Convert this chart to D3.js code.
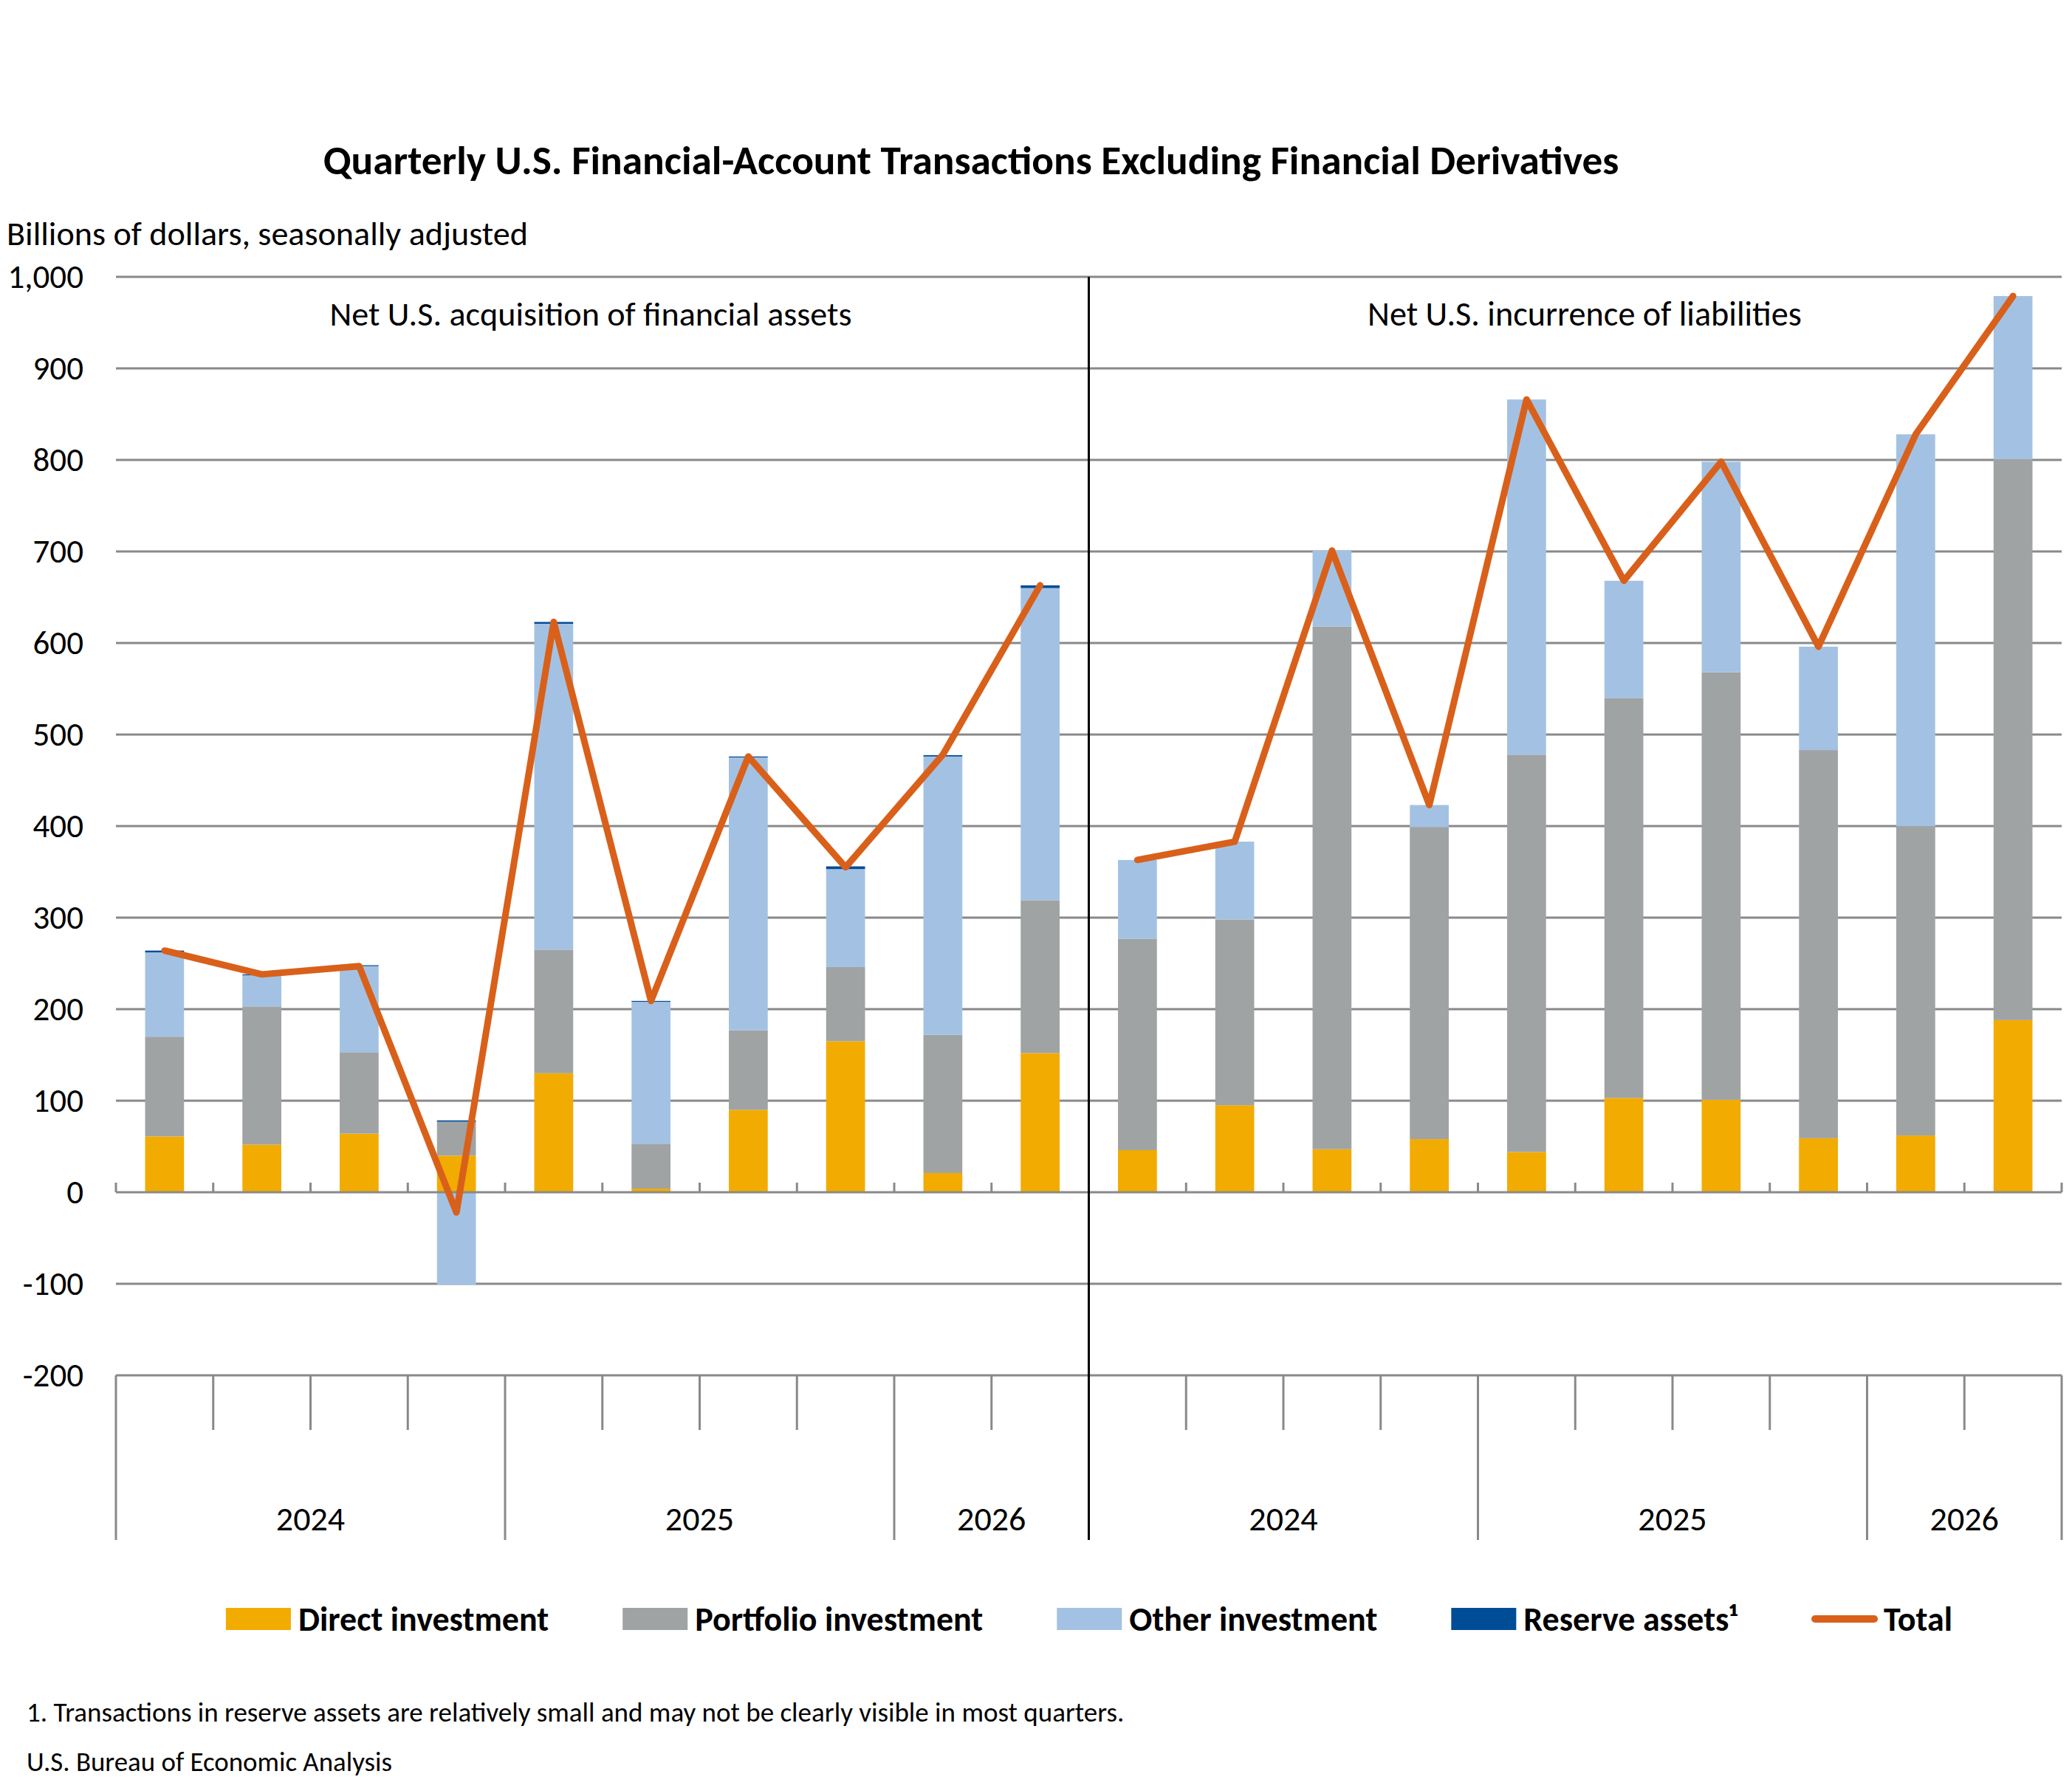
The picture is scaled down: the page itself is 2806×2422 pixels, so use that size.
<!DOCTYPE html>
<html>
<head>
<meta charset="utf-8">
<script src="https://cdn.jsdelivr.net/npm/d3@7"></script>
<style>
  body { margin: 0; background: #fff; }
  text { font-family: Carlito, Lato, "Open Sans", sans-serif; fill: #000; }
</style>
</head>
<body>
<script>
// ---- data (billions of dollars) ----
var quarters = ["Q1", "Q2", "Q3", "Q4", "Q1", "Q2", "Q3", "Q4", "Q1", "Q2"];
var years = ["2024", "2025", "2026"];
var quartersPerYear = [4, 4, 2];
var panelNames = ["Net U.S. acquisition of financial assets", "Net U.S. incurrence of liabilities"];
var seriesNames = ["Direct investment", "Portfolio investment", "Other investment", "Reserve assets\u00B9"];

var assetsDirect    = [61, 52, 64, 40, 130, 4, 90, 165, 21, 152];
var assetsPortfolio = [109, 151, 89, 37, 135, 49, 87, 81, 151, 167];
var assetsOther     = [92, 34, 94, -101, 356, 155, 298, 107, 304, 341];
var assetsReserve   = [2, 1, 1, 1.5, 2, 1, 1, 3, 1.5, 3];
var assetsTotal     = [264, 238, 247, -22, 623, 209, 476, 355, 478, 663];

var liabDirect    = [46, 95, 47, 58, 44, 103, 101, 59, 62, 188];
var liabPortfolio = [231, 203, 571, 341, 434, 437, 467, 424, 338, 613];
var liabOther     = [86, 85, 83, 24, 388, 128, 230, 113, 428, 178];
var liabReserve   = [0, 0, 0, 0, 0, 0, 0, 0, 0, 0];
var liabTotal     = [363, 383, 701, 423, 866, 668, 798, 596, 828, 979];

var yTicks = [-200, -100, 0, 100, 200, 300, 400, 500, 600, 700, 800, 900, 1000];

// ---- build rows for the stack ----
var keys = ["direct", "portfolio", "other", "reserve"];
var colors = { direct: "#F2AB00", portfolio: "#A0A3A4", other: "#A3C2E3", reserve: "#004C97" };
var lineColor = "#D9601A";

var panelData = [
  [assetsDirect, assetsPortfolio, assetsOther, assetsReserve, assetsTotal],
  [liabDirect, liabPortfolio, liabOther, liabReserve, liabTotal]
];
var rows = [];
panelData.forEach(function (p, pi) {
  quarters.forEach(function (q, i) {
    rows.push({ key: pi + "-" + i, panel: pi,
      direct: p[0][i], portfolio: p[1][i], other: p[2][i], reserve: p[3][i], total: p[4][i] });
  });
});

// ---- layout ----
var W = 2806, H = 2422;
var plotLeft = 157, plotRight = 2792, plotTop = 375, plotBottom = 1863;
var catBottom = 2086, shortTick = 1937;

var svg = d3.select("body").append("svg")
  .attr("width", W).attr("height", H);

var x = d3.scaleBand()
  .domain(rows.map(function (d) { return d.key; }))
  .range([plotLeft, plotRight])
  .paddingInner(0.6)
  .paddingOuter(0.3);

var y = d3.scaleLinear().domain([-200, 1000]).range([plotBottom, plotTop]);

function fit(t, target) {
  var w = t.node().getComputedTextLength();
  t.attr("font-size", parseFloat(t.attr("font-size")) * target / w);
}

// gridlines
svg.append("g").selectAll("line")
  .data(yTicks.filter(function (d) { return d !== 0; }))
  .enter().append("line")
  .attr("x1", plotLeft).attr("x2", plotRight)
  .attr("y1", function (d) { return y(d); }).attr("y2", function (d) { return y(d); })
  .attr("stroke", "#898989").attr("stroke-width", 3);

// y axis labels
var yAxis = d3.axisLeft(y)
  .tickValues(yTicks)
  .tickSize(0)
  .tickPadding(44)
  .tickFormat(function (d) { return d3.format(",")(d).replace("\u2212", "-"); });
var yg = svg.append("g").attr("transform", "translate(" + plotLeft + ",0)").call(yAxis);
yg.select(".domain").remove();
yg.selectAll("text").attr("font-size", 45).attr("font-family", "Carlito, Lato, sans-serif").attr("fill", "#000");

// stacked bars
var stack = d3.stack().keys(keys).offset(d3.stackOffsetDiverging);
var series = stack(rows);
svg.append("g").selectAll("g")
  .data(series)
  .enter().append("g")
  .attr("fill", function (s) { return colors[s.key]; })
  .selectAll("rect")
  .data(function (s) { return s; })
  .enter().append("rect")
  .attr("x", function (d) { return x(d.data.key); })
  .attr("width", x.bandwidth())
  .attr("y", function (d) { return y(Math.max(d[0], d[1])); })
  .attr("height", function (d) { return Math.abs(y(d[0]) - y(d[1])); });

// zero line with small tick marks
svg.append("line")
  .attr("x1", plotLeft).attr("x2", plotRight).attr("y1", y(0)).attr("y2", y(0))
  .attr("stroke", "#898989").attr("stroke-width", 3);

var step = x.step();
var bounds = d3.range(0, 21);
svg.append("g").selectAll("line")
  .data(bounds)
  .enter().append("line")
  .attr("x1", function (k) { return plotLeft + k * step; })
  .attr("x2", function (k) { return plotLeft + k * step; })
  .attr("y1", y(0)).attr("y2", y(0) - 13)
  .attr("stroke", "#898989").attr("stroke-width", 3);

// category axis: quarter ticks and year separators
var yearStarts = [0];
quartersPerYear.forEach(function (n, i) { yearStarts.push(yearStarts[i] + n); });
svg.append("g").selectAll("line")
  .data(bounds)
  .enter().append("line")
  .attr("x1", function (k) { return plotLeft + k * step; })
  .attr("x2", function (k) { return plotLeft + k * step; })
  .attr("y1", plotBottom)
  .attr("y2", function (k) { return yearStarts.indexOf(k % 10) >= 0 || k === 20 ? catBottom : shortTick; })
  .attr("stroke", "#898989").attr("stroke-width", 3);

// year labels
[0, 1].forEach(function (p) {
  years.forEach(function (yr, i) {
    var cx = plotLeft + (p * 10 + (yearStarts[i] + yearStarts[i + 1]) / 2) * step;
    svg.append("text")
      .attr("x", cx).attr("y", 2057)
      .attr("text-anchor", "middle").attr("dominant-baseline", "central")
      .attr("font-size", 46)
      .text(yr);
  });
});

// panel divider
svg.append("line")
  .attr("x1", plotLeft + 10 * step).attr("x2", plotLeft + 10 * step)
  .attr("y1", plotTop).attr("y2", catBottom)
  .attr("stroke", "#000").attr("stroke-width", 3);

// total lines, one per panel
var line = d3.line()
  .x(function (d) { return x(d.key) + x.bandwidth() / 2; })
  .y(function (d) { return y(d.total); });
[0, 1].forEach(function (p) {
  svg.append("path")
    .datum(rows.filter(function (d) { return d.panel === p; }))
    .attr("d", line)
    .attr("fill", "none")
    .attr("stroke", lineColor)
    .attr("stroke-width", 9)
    .attr("stroke-linejoin", "round")
    .attr("stroke-linecap", "round");
});

// panel labels
var pl1 = svg.append("text").attr("x", 800).attr("y", 425)
  .attr("text-anchor", "middle").attr("dominant-baseline", "central")
  .attr("font-size", 40).text(panelNames[0]);
fit(pl1, 707);
var pl2 = svg.append("text").attr("x", 2146).attr("y", 425)
  .attr("text-anchor", "middle").attr("dominant-baseline", "central")
  .attr("font-size", 40).text(panelNames[1]);
fit(pl2, 588);

// titles
var title = svg.append("text").attr("x", 1315).attr("y", 217)
  .attr("text-anchor", "middle").attr("dominant-baseline", "central")
  .attr("font-size", 46).attr("font-weight", "bold")
  .text("Quarterly U.S. Financial-Account Transactions Excluding Financial Derivatives");
fit(title, 1755);
var sub = svg.append("text").attr("x", 9).attr("y", 316)
  .attr("dominant-baseline", "central")
  .attr("font-size", 40)
  .text("Billions of dollars, seasonally adjusted");
fit(sub, 706);

// legend
var legY = 2193;
var lg = svg.append("g");
var lx = 0;
var legendItems = seriesNames.map(function (n, i) { return { name: n, key: keys[i] }; })
  .concat([{ name: "Total", key: "total" }]);
legendItems.forEach(function (it) {
  var g = lg.append("g").attr("transform", "translate(" + lx + ",0)");
  if (it.key === "total") {
    g.append("line").attr("x1", 5).attr("x2", 85).attr("y1", legY).attr("y2", legY)
      .attr("stroke", lineColor).attr("stroke-width", 10).attr("stroke-linecap", "round");
  } else {
    g.append("rect").attr("x", 0).attr("y", legY - 15).attr("width", 88).attr("height", 30)
      .attr("fill", colors[it.key]);
  }
  var t = g.append("text").attr("x", 98).attr("y", legY)
    .attr("dominant-baseline", "central")
    .attr("font-size", 46).attr("font-weight", "bold")
    .text(it.name);
  lx += 98 + t.node().getComputedTextLength() + 100;
});
var lw = lx - 100;
lg.attr("transform", "translate(" + (1475 - lw / 2) + ",0)");

// notes
var fn = svg.append("text").attr("x", 36).attr("y", 2319)
  .attr("dominant-baseline", "central").attr("font-size", 32)
  .text("1. Transactions in reserve assets are relatively small and may not be clearly visible in most quarters.");
fit(fn, 1487);
var src = svg.append("text").attr("x", 36).attr("y", 2386)
  .attr("dominant-baseline", "central").attr("font-size", 32)
  .text("U.S. Bureau of Economic Analysis");
fit(src, 495);
</script>
</body>
</html>
